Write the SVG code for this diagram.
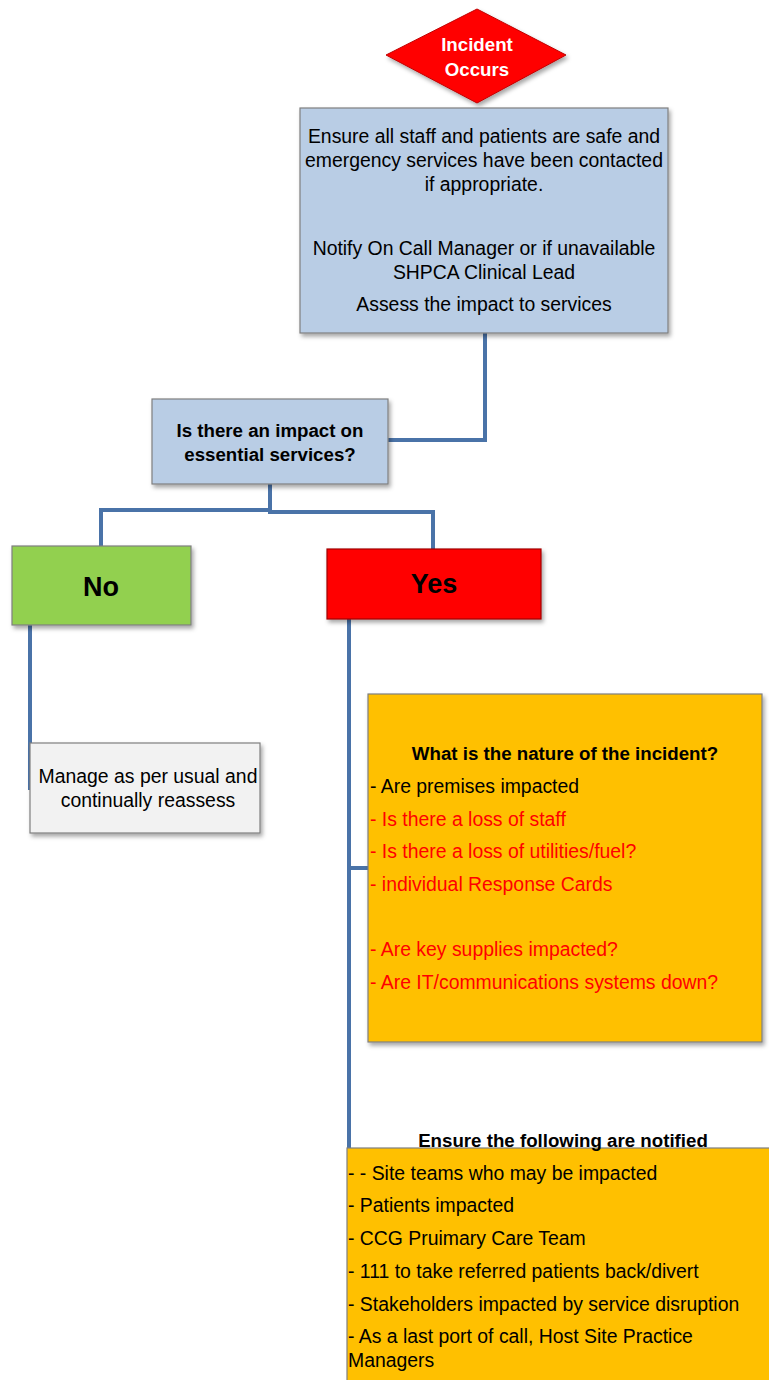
<svg xmlns="http://www.w3.org/2000/svg" width="769" height="1380" viewBox="0 0 769 1380">
<style>
text{font-family:"Liberation Sans","Open Sans",sans-serif;font-size:19.4px;fill:#000}
.c{text-anchor:middle}
.b{font-weight:bold;font-size:18.7px}
.r{fill:#ff0000}
.box{stroke:#7f7f7f;stroke-width:1.2}
.con{fill:none;stroke:#4a73a8;stroke-width:4}
</style>
<defs>
<filter id="sh" x="-10%" y="-10%" width="130%" height="130%">
<feDropShadow dx="2" dy="3" stdDeviation="2" flood-color="#000" flood-opacity="0.35"/>
</filter>
</defs>
<rect width="769" height="1380" fill="#fff"/>
<g id="connectors">
<polyline class="con" points="485,333 485,440 388,440"/>
<polyline class="con" points="270,484 270,510 101,510 101,546"/>
<polyline class="con" points="270,510 270,512 433,512 433,549"/>
<polyline class="con" points="30,625 30,790"/>
<polyline class="con" points="349,619 349,1265"/>
<polyline class="con" points="349,868 370,868"/>
</g>
<g id="incident">
<polygon points="477,9 566,55 477,103 386,55" fill="#ff0000" stroke="#c00000" stroke-width="1" filter="url(#sh)"/>
<text x="477" y="51" class="c b" style="fill:#fff">Incident</text>
<text x="477" y="76" class="c b" style="fill:#fff">Occurs</text>
</g>
<g id="ensure">
<rect x="300" y="108" width="368" height="225" fill="#b9cde5" class="box" filter="url(#sh)"/>
<text x="484" y="143" class="c">Ensure all staff and patients are safe and</text>
<text x="484" y="167" class="c">emergency services have been contacted</text>
<text x="484" y="191" class="c">if appropriate.</text>
<text x="484" y="255" class="c">Notify On Call Manager or if unavailable</text>
<text x="484" y="279" class="c">SHPCA Clinical Lead</text>
<text x="484" y="311" class="c">Assess the impact to services</text>
</g>
<g id="question">
<rect x="152" y="399" width="236" height="85" fill="#b9cde5" class="box" filter="url(#sh)"/>
<text x="270" y="437" class="c b">Is there an impact on</text>
<text x="270" y="461" class="c b">essential services?</text>
</g>
<g id="no">
<rect x="12" y="546" width="179" height="79" fill="#92d050" class="box" filter="url(#sh)"/>
<text x="101" y="596" class="c b" style="font-size:27px">No</text>
</g>
<g id="yes">
<rect x="327" y="549" width="214" height="70" fill="#ff0000" stroke="#a00000" stroke-width="1.2" filter="url(#sh)"/>
<text x="434" y="593" class="c b" style="font-size:27px">Yes</text>
</g>
<g id="manage">
<rect x="30" y="743" width="230" height="90" fill="#f2f2f2" class="box" filter="url(#sh)"/>
<text x="148" y="783" class="c">Manage as per usual and</text>
<text x="148" y="807" class="c">continually reassess</text>
</g>
<g id="nature">
<rect x="368" y="694" width="394" height="348" fill="#ffc000" class="box" filter="url(#sh)"/>
<text x="565" y="760" class="c b">What is the nature of the incident?</text>
<text x="370" y="793">- Are premises impacted</text>
<text x="370" y="826" class="r">- Is there a loss of staff</text>
<text x="370" y="858" class="r">- Is there a loss of utilities/fuel?</text>
<text x="370" y="891" class="r">- individual Response Cards</text>
<text x="370" y="956" class="r">- Are key supplies impacted?</text>
<text x="370" y="989" class="r">- Are IT/communications systems down?</text>
</g>
<g id="notified">
<rect x="347" y="1148" width="430" height="240" fill="#ffc000" class="box"/>
<text x="563" y="1147" class="c b">Ensure the following are notified</text>
<text x="348" y="1180">- - Site teams who may be impacted</text>
<text x="348" y="1212">- Patients impacted</text>
<text x="348" y="1245">- CCG Pruimary Care Team</text>
<text x="348" y="1278">- 111 to take referred patients back/divert</text>
<text x="348" y="1311">- Stakeholders impacted by service disruption</text>
<text x="348" y="1343">- As a last port of call, Host Site Practice</text>
<text x="348" y="1367">Managers</text>
</g>
</svg>
